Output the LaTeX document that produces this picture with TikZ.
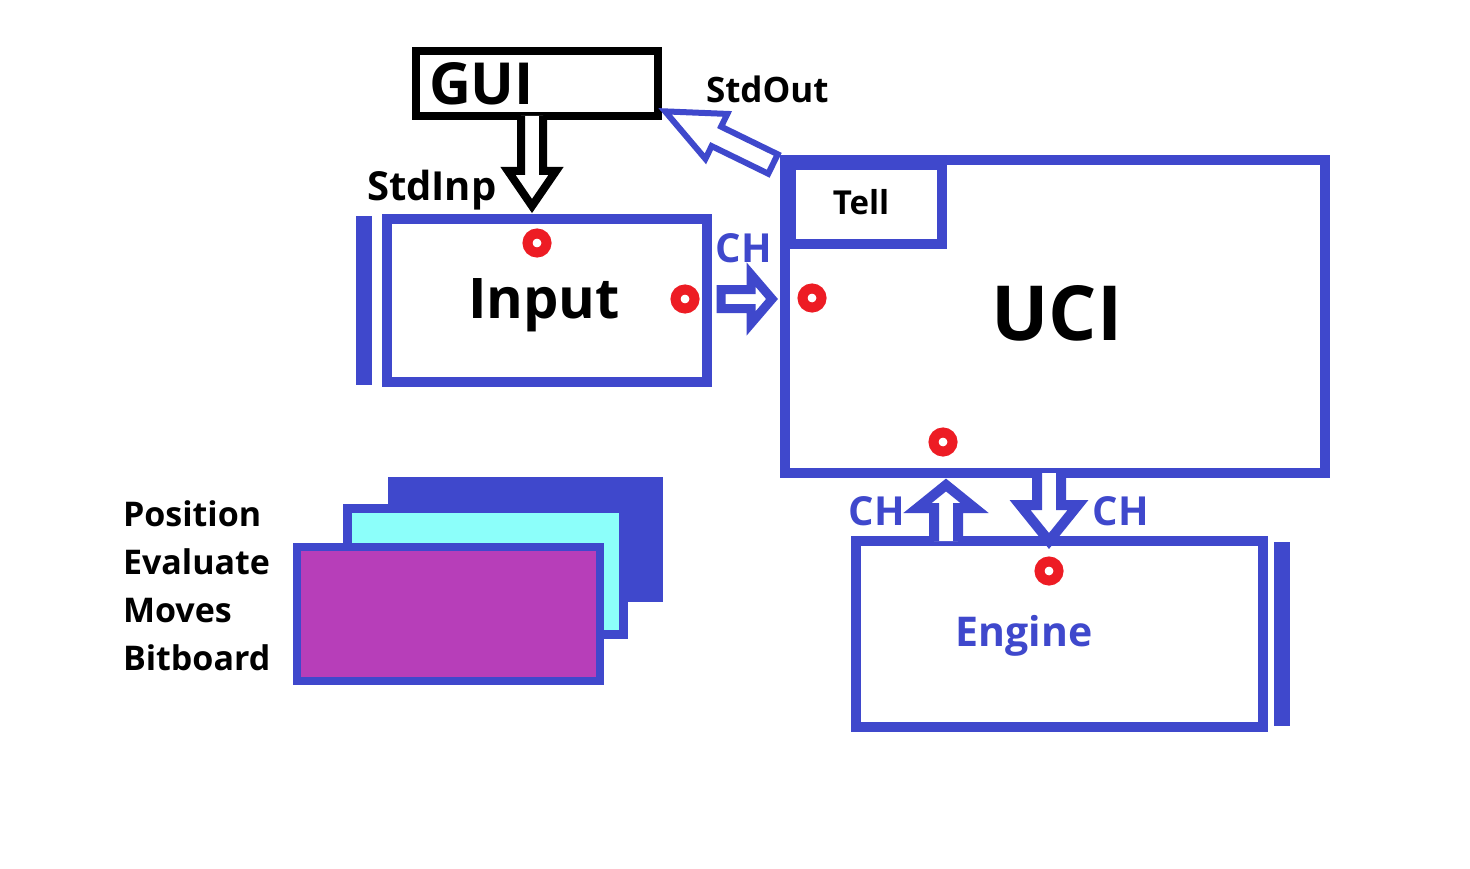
\documentclass[tikz,border=0pt]{standalone}
\usepackage{fontspec}
\setmainfont{Open Sans}
\definecolor{ind}{RGB}{63,72,204}
\definecolor{rd}{RGB}{237,28,36}
\definecolor{cy}{RGB}{140,255,250}
\definecolor{mg}{RGB}{183,62,185}
\newcommand\fs[1]{\fontsize{#1}{#1}\selectfont\bfseries}
\begin{document}
\begin{tikzpicture}[x=1pt,y=-1pt,
  lbl/.style={inner sep=0pt,outer sep=0pt},
  dotr/.style={circle,draw=rd,line width=10pt,fill=white,minimum size=19pt,inner sep=0pt},
  bluebox/.style={draw=ind,line width=10pt},
  harr/.style={line join=miter,fill=white}]
\useasboundingbox (0,0) rectangle (1470,869);
\fill[white] (0,0) rectangle (1470,869);

% GUI
\draw[line width=8pt] (416,51) rectangle (658,116);
\node[lbl,anchor=base west] (gui) at (429,105) {\fs{58}GUI};
% StdInp arrow
\draw[harr,line width=8pt,draw=black] (521,116) -- (521,171) -- (508,171) -- (532,206) -- (556,171) -- (543,171) -- (543,116);
\node[lbl,anchor=base west] (stdinp) at (367,201) {\fs{40}StdInp};

% StdOut arrow
\draw[harr,line width=6pt,draw=ind,shift={(773,164)},rotate=154]
  (0,-10.8) -- (63,-10.8) -- (63,-25) -- (120,0) -- (63,25) -- (63,10.8) -- (0,10.8) -- cycle;
\node[lbl,anchor=base west] (stdout) at (706,103) {\fs{35}StdOut};

% Input
\fill[ind] (356,216) rectangle (372,385);
\draw[bluebox] (387,219) rectangle (707,382);
\node[lbl,anchor=base] (input) at (544,318) {\fs{56}Input};
\node[dotr] (d1) at (537,243) {};
\node[dotr] (d2) at (685,299) {};

% CH right arrow
\draw[harr,line width=9pt,draw=ind] (721,289.5) -- (751,289.5) -- (751,274.5) -- (772,299) -- (751,323.5) -- (751,308.5) -- (721,308.5) -- cycle;
\node[lbl,anchor=base,text=ind] (ch1) at (744,262) {\fs{40}CH};

% UCI
\draw[bluebox] (785,160) rectangle (1325,473);
\draw[bluebox] (791,165) rectangle (942,244);
\node[lbl,anchor=base] (tell) at (861,215) {\fs{33}Tell};
\node[lbl,anchor=base] (uci) at (1057,340) {\fs{76}UCI};
\node[dotr] (d3) at (812,298) {};
\node[dotr] (d4) at (943,442) {};

% Engine
\fill[ind] (1274,542) rectangle (1290,726);
\draw[bluebox] (856,541) rectangle (1263,727);
\node[lbl,anchor=base,text=ind] (engine) at (1024,646) {\fs{41}Engine};
\node[dotr] (d5) at (1049,571) {};

% CH up/down arrows
\draw[harr,line width=10pt,draw=ind] (934,541) -- (934,508) -- (917.5,508) -- (946,485) -- (974.5,508) -- (958,508) -- (958,541);
\draw[harr,line width=10pt,draw=ind] (1037,473) -- (1037,505) -- (1020,505) -- (1049,541) -- (1078,505) -- (1061,505) -- (1061,473);
\node[lbl,anchor=base,text=ind] (ch2) at (877,525) {\fs{40}CH};
\node[lbl,anchor=base,text=ind] (ch3) at (1121,525) {\fs{40}CH};

% stacked rectangles
\fill[ind] (388,477) rectangle (663,602);
\draw[draw=ind,fill=cy,line width=9pt] (347.5,508.5) rectangle (623.5,634);
\draw[draw=ind,fill=mg,line width=8pt] (297,547) rectangle (600,681);

% labels
\node[lbl,anchor=base west] (pos) at (123,526) {\fs{34}Position};
\node[lbl,anchor=base west] (eva) at (123,574) {\fs{34}Evaluate};
\node[lbl,anchor=base west] (mov) at (123,622) {\fs{34}Moves};
\node[lbl,anchor=base west] (bit) at (123,670) {\fs{34}Bitboard};
\end{tikzpicture}
\end{document}
